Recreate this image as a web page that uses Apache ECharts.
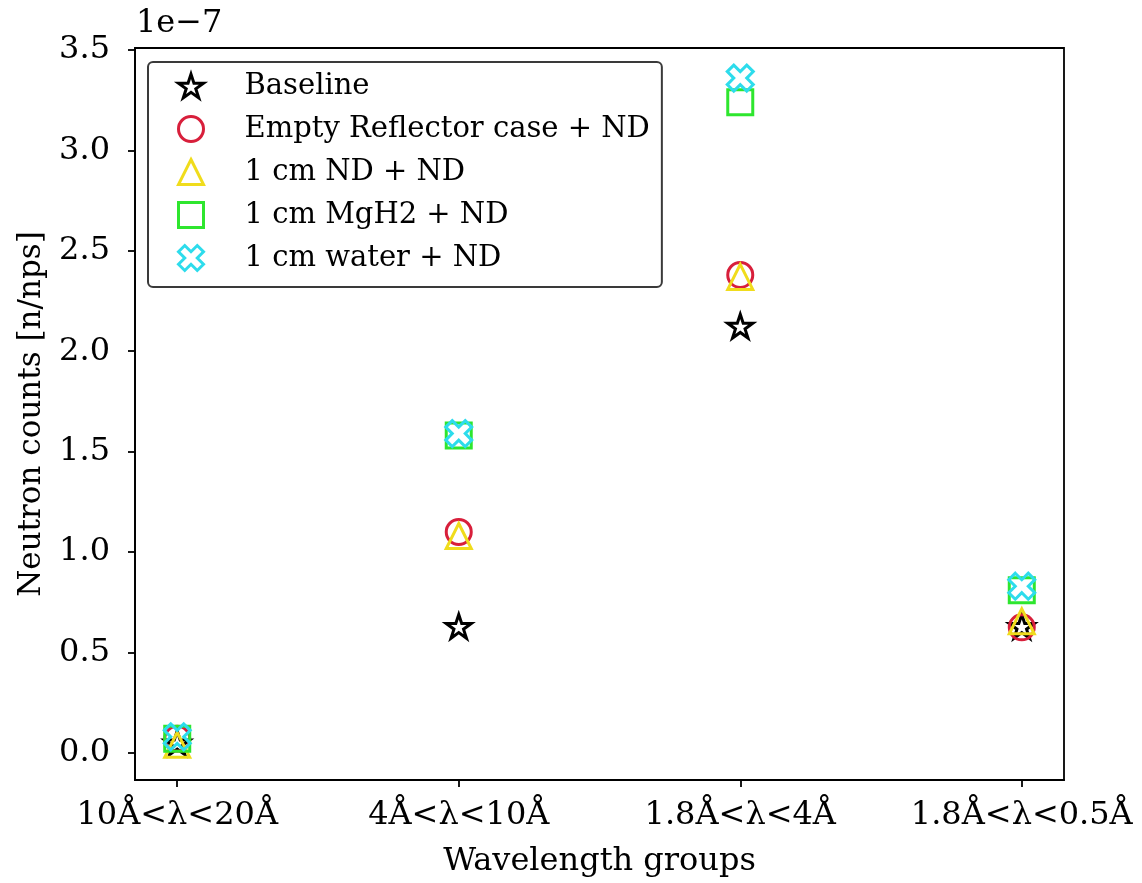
<!DOCTYPE html>
<html>
<head>
<meta charset="utf-8">
<script src="https://cdn.jsdelivr.net/npm/echarts@6/dist/echarts.min.js"></script>
<style>html,body{margin:0;padding:0;background:#fff}#c{width:1142px;height:883px}</style>
</head>
<body>
<div id="c"></div>
<script>
// Data (values in units of 1e-7 n/nps)
const categories = ["10Å<λ<20Å", "4Å<λ<10Å", "1.8Å<λ<4Å", "1.8Å<λ<0.5Å"];
const yTicks = [0, 0.5, 1.0, 1.5, 2.0, 2.5, 3.0, 3.5];
const seriesNames = ["Baseline", "Empty Reflector case + ND", "1 cm ND + ND", "1 cm MgH2 + ND", "1 cm water + ND"];
const baseline  = [0.05, 0.63, 2.125, 0.63];
const emptyRefl = [0.07, 1.10, 2.38, 0.625];
const ndND      = [0.04, 1.08, 2.37, 0.655];
const mgh2ND    = [0.07, 1.58, 3.24, 0.81];
const waterND   = [0.08, 1.59, 3.36, 0.83];

const FONT = "DejaVu Serif";
const starPath = "path://M0,-1 L0.2245,-0.309 L0.9511,-0.309 L0.3633,0.118 L0.5878,0.809 L0,0.382 L-0.5878,0.809 L-0.3633,0.118 L-0.9511,-0.309 L-0.2245,-0.309 Z";
const xPath = "path://M-0.25,-0.5 L0,-0.25 L0.25,-0.5 L0.5,-0.25 L0.25,0 L0.5,0.25 L0.25,0.5 L0,0.25 L-0.25,0.5 L-0.5,0.25 L-0.25,0 L-0.5,-0.25 Z";

function mk(name, vals, symbol, size, color) {
  return {
    name: name,
    type: 'scatter',
    data: vals.map((v, i) => [i, v]),
    symbol: symbol,
    symbolSize: size,
    symbolKeepAspect: true,
    itemStyle: { color: 'rgba(255,255,255,0)', borderColor: color, borderWidth: 3, opacity: 1 },
    emphasis: { disabled: true },
    z: 2
  };
}

const chart = echarts.init(document.getElementById('c'), null, { renderer: 'canvas' });
chart.setOption({
  backgroundColor: '#ffffff',
  animation: false,
  textStyle: { fontFamily: FONT },
  grid: { left: 135, right: 78, top: 48, bottom: 101, show: true, borderColor: '#000', borderWidth: 1.8, backgroundColor: 'transparent' },
  legend: {
    orient: 'vertical',
    left: 148, top: 62,
    padding: [9, 12, 14, 29],
    itemWidth: 25, itemHeight: 25, itemGap: 13,
    borderColor: '#3a3a3a', borderWidth: 2, borderRadius: 5,
    backgroundColor: '#fff',
    itemStyle: { borderWidth: 3 },
    textStyle: { fontFamily: FONT, fontSize: 29, color: '#000', lineHeight: 30, padding: [0, 0, 0, 36] },
    data: seriesNames,
    selectedMode: false
  },
  xAxis: {
    type: 'value', min: -0.15, max: 3.15,
    name: 'Wavelength groups', nameLocation: 'middle', nameGap: 66,
    nameTextStyle: { fontFamily: FONT, fontSize: 32, color: '#000' },
    axisLine: { show: true, onZero: false, lineStyle: { color: '#000', width: 1.8 } },
    axisTick: { show: true, length: 7, lineStyle: { color: '#000', width: 1.8 }, customValues: [0, 1, 2, 3] },
    axisLabel: { fontFamily: FONT, fontSize: 32, color: '#000', margin: 20, customValues: [0, 1, 2, 3], formatter: v => categories[Math.round(v)] },
    splitLine: { show: false }
  },
  yAxis: {
    type: 'value', min: -0.135, max: 3.51,
    name: 'Neutron counts [n/nps]', nameLocation: 'middle', nameGap: 88,
    nameTextStyle: { fontFamily: FONT, fontSize: 31, color: '#000' },
    axisLine: { show: true, onZero: false, lineStyle: { color: '#000', width: 1.8 } },
    axisTick: { show: true, length: 7, lineStyle: { color: '#000', width: 1.8 }, customValues: yTicks },
    axisLabel: { fontFamily: FONT, fontSize: 32, color: '#000', margin: 25, customValues: yTicks, formatter: v => v.toFixed(1) },
    splitLine: { show: false }
  },
  graphic: [{
    type: 'text', left: 136, top: 8,
    style: { text: '1e\u22127', fontFamily: FONT, fontSize: 32, fill: '#000' }
  }],
  series: [
    mk(seriesNames[0], baseline, starPath, 25, '#000000'),
    mk(seriesNames[1], emptyRefl, 'circle', 25, '#d81f3b'),
    mk(seriesNames[2], ndND, 'triangle', 25, '#f0dc1c'),
    mk(seriesNames[3], mgh2ND, 'rect', 25, '#2ee62e'),
    mk(seriesNames[4], waterND, xPath, 26, '#2ddcec')
  ]
});
</script>
</body>
</html>
